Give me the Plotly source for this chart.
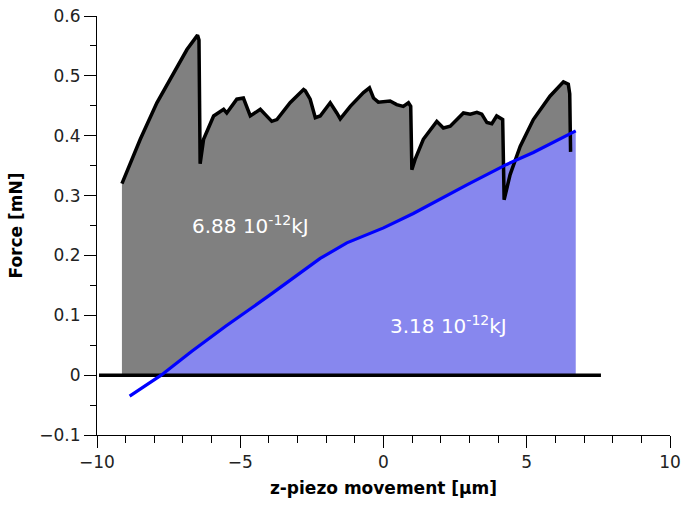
import plotly.graph_objects as go

# Kraftkurve (schwarz) - z-piezo [µm], Kraft [mN]
force_x = [-9.13, -8.49, -7.91, -7.33, -6.86, -6.49, -6.44, -6.40, -6.28, -5.93, -5.58, -5.47,
           -5.12, -4.89, -4.77, -4.65, -4.30, -3.90, -3.72, -3.26, -2.79, -2.73, -2.56, -2.38,
           -2.21, -1.86, -1.63, -1.51, -1.16, -0.70, -0.49, -0.35, -0.18, 0.23, 0.46, 0.69,
           0.87, 0.95, 0.99, 1.10, 1.39, 1.86, 2.09, 2.33, 2.79, 3.03, 3.26, 3.43, 3.61, 3.78,
           3.95, 4.16, 4.21, 4.42, 4.77, 5.23, 5.81, 6.28, 6.45, 6.50, 6.53]
force_y = [0.320, 0.394, 0.455, 0.505, 0.544, 0.568, 0.560, 0.353, 0.394, 0.433, 0.444, 0.438,
           0.461, 0.463, 0.449, 0.433, 0.444, 0.424, 0.427, 0.455, 0.477, 0.475, 0.461, 0.430,
           0.433, 0.455, 0.438, 0.428, 0.449, 0.472, 0.480, 0.463, 0.456, 0.458, 0.452, 0.449,
           0.455, 0.449, 0.343, 0.360, 0.394, 0.424, 0.413, 0.416, 0.438, 0.436, 0.439, 0.436,
           0.422, 0.420, 0.433, 0.427, 0.293, 0.335, 0.382, 0.427, 0.466, 0.490, 0.486, 0.470,
           0.373]

# Rueckzugskurve (blau)
retract_x = [-8.86, -7.76, -6.69, -5.50, -3.96, -2.21, -1.28, 0.00, 1.04, 2.56, 2.91, 4.30, 5.23, 6.71]
retract_y = [-0.035, 0.000, 0.040, 0.082, 0.134, 0.195, 0.221, 0.246, 0.270, 0.310, 0.318, 0.352,
             0.372, 0.408]

# Nulllinie
zero_x = [-9.93, 7.59]
zero_y = [0, 0]

# Energien
energy_labels = ["6.88 10<sup>-12</sup>kJ", "3.18 10<sup>-12</sup>kJ"]
energy_x = [-6.75, 0.17]
energy_y = [0.251, 0.084]

fig = go.Figure()

# graue Flaeche unter der Kraftkurve
fig.add_trace(go.Scatter(
    x=force_x + [force_x[-1], force_x[0]],
    y=force_y + [0, 0],
    fill="toself", fillcolor="#808080", line=dict(width=0), mode="lines",
    hoverinfo="skip", showlegend=False))

# blaue Flaeche (nur positiver Teil)
pos_x = [x for x, y in zip(retract_x, retract_y) if y >= 0]
pos_y = [y for y in retract_y if y >= 0]
fig.add_trace(go.Scatter(
    x=pos_x + [pos_x[-1], pos_x[0]],
    y=pos_y + [0, 0],
    fill="toself", fillcolor="#8787EE", line=dict(width=0), mode="lines",
    hoverinfo="skip", showlegend=False))

fig.add_trace(go.Scatter(x=zero_x, y=zero_y, mode="lines",
                         line=dict(color="black", width=3.5), showlegend=False))
fig.add_trace(go.Scatter(x=force_x, y=force_y, mode="lines",
                         line=dict(color="black", width=3.5), showlegend=False))
fig.add_trace(go.Scatter(x=retract_x, y=retract_y, mode="lines",
                         line=dict(color="#0000FF", width=3.2), showlegend=False))

for txt, x, y in zip(energy_labels, energy_x, energy_y):
    fig.add_annotation(x=x, y=y, text=txt, showarrow=False, xanchor="left", yanchor="middle",
                       font=dict(color="white", size=20))

axis_style = dict(showline=True, linecolor="black", linewidth=1, ticks="outside",
                  tickcolor="black", ticklen=12, showgrid=False, zeroline=False,
                  automargin=False, ticklabeloverflow="allow",
                  tickfont=dict(size=17, color="#222222"))

fig.update_xaxes(range=[-10, 10], dtick=5, tick0=0,
                 minor=dict(dtick=1, ticks="outside", ticklen=7, tickcolor="black"),
                 title=dict(text="<b>z-piezo movement [µm]</b>", font=dict(size=17, color="black"),
                            standoff=10),
                 **axis_style)
fig.update_yaxes(range=[-0.1, 0.6], dtick=0.1, tick0=0,
                 minor=dict(dtick=0.05, ticks="outside", ticklen=6, tickcolor="black"),
                 title=dict(text="<b>Force [mN]</b>", font=dict(size=17, color="black"),
                            standoff=12),
                 **axis_style)

fig.update_layout(width=689, height=509, margin=dict(l=97, r=19, t=16, b=74),
                  plot_bgcolor="white", paper_bgcolor="white",
                  font=dict(family="DejaVu Sans"))

# Seitenrand entfernen, damit die Figur bei 0,0 beginnt
fig.write_html("out.html", config={"displayModeBar": False},
               post_script="document.body.style.margin='0px';")
